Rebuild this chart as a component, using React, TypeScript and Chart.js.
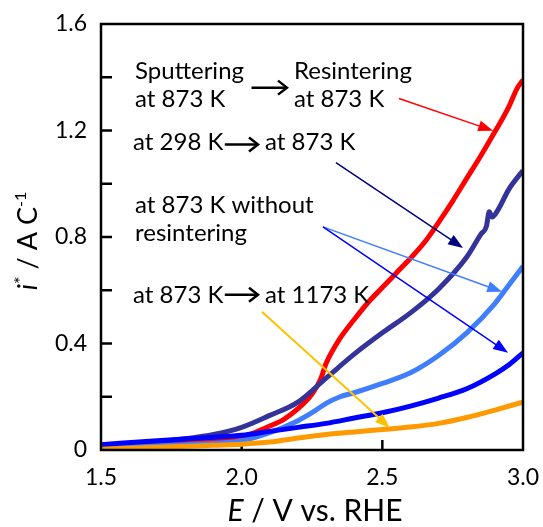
import React, { useEffect, useRef } from "react";
import { Chart, registerables } from "chart.js";

Chart.register(...registerables);

// Sputtering at 873 K -> Resintering at 873 K (red)
const redE = [1.5, 1.7, 1.9, 2.0, 2.1, 2.15, 2.2, 2.25, 2.28, 2.3, 2.35, 2.4, 2.45, 2.5, 2.55, 2.6, 2.65, 2.7, 2.75, 2.8, 2.85, 2.9, 2.95, 2.98, 3.0];
const redI = [0.015, 0.025, 0.038, 0.048, 0.09, 0.115, 0.155, 0.21, 0.265, 0.325, 0.42, 0.49, 0.555, 0.61, 0.665, 0.72, 0.78, 0.855, 0.935, 1.02, 1.105, 1.195, 1.29, 1.36, 1.39];

// at 298 K -> at 873 K (navy)
const navyE = [1.5, 1.7, 1.9, 2.0, 2.1, 2.2, 2.3, 2.4, 2.5, 2.6, 2.7, 2.8, 2.85, 2.87, 2.88, 2.89, 2.91, 2.95, 3.0];
const navyI = [0.015, 0.03, 0.058, 0.085, 0.13, 0.18, 0.27, 0.36, 0.44, 0.515, 0.605, 0.725, 0.81, 0.84, 0.895, 0.875, 0.9, 0.98, 1.05];

// at 873 K without resintering (light blue)
const lightE = [1.5, 1.8, 2.0, 2.1, 2.2, 2.25, 2.3, 2.35, 2.4, 2.5, 2.6, 2.7, 2.8, 2.9, 2.95, 3.0];
const lightI = [0.01, 0.02, 0.035, 0.065, 0.11, 0.14, 0.175, 0.2, 0.215, 0.25, 0.29, 0.355, 0.44, 0.55, 0.62, 0.69];

// at 873 K without resintering (blue)
const blueE = [1.5, 1.7, 1.9, 2.0, 2.1, 2.2, 2.3, 2.4, 2.5, 2.6, 2.7, 2.8, 2.9, 2.95, 3.0];
const blueI = [0.02, 0.035, 0.048, 0.055, 0.07, 0.085, 0.1, 0.12, 0.14, 0.165, 0.195, 0.23, 0.285, 0.32, 0.365];

// at 873 K -> at 1173 K (orange)
const orangeE = [1.5, 1.7, 1.9, 2.0, 2.1, 2.2, 2.3, 2.4, 2.5, 2.6, 2.7, 2.8, 2.9, 3.0];
const orangeI = [0.003, 0.01, 0.018, 0.022, 0.03, 0.045, 0.058, 0.068, 0.077, 0.086, 0.1, 0.122, 0.15, 0.18];

const xTickLabels = ["1.5", "2.0", "2.5", "3.0"];
const yTickLabels = ["0", "0.4", "0.8", "1.2", "1.6"];

const FONT = "Lato, 'Open Sans', sans-serif";

const pts = (xs: number[], ys: number[]) => xs.map((x, i) => ({ x, y: ys[i] }));

function drawArrowHead(ctx: CanvasRenderingContext2D, x1: number, y1: number, x2: number, y2: number, len: number, wid: number, color: string) {
  const a = Math.atan2(y2 - y1, x2 - x1);
  ctx.save();
  ctx.fillStyle = color;
  ctx.beginPath();
  ctx.moveTo(x2, y2);
  ctx.lineTo(x2 - len * Math.cos(a) + (wid / 2) * Math.sin(a), y2 - len * Math.sin(a) - (wid / 2) * Math.cos(a));
  ctx.lineTo(x2 - len * Math.cos(a) - (wid / 2) * Math.sin(a), y2 - len * Math.sin(a) + (wid / 2) * Math.cos(a));
  ctx.closePath();
  ctx.fill();
  ctx.restore();
}

const decor = {
  id: "decor",
  beforeDatasetsDraw(chart: any) {
    const { ctx, chartArea, scales } = chart;
    const { left, bottom } = chartArea;
    ctx.save();
    ctx.strokeStyle = "#000";
    ctx.lineWidth = 2.5;
    scales.y.ticks.forEach((t: any) => {
      if (t.value <= 0 || t.value >= 1.6) return;
      const py = scales.y.getPixelForValue(t.value);
      ctx.beginPath();
      ctx.moveTo(left, py);
      ctx.lineTo(left + 11, py);
      ctx.stroke();
    });
    scales.x.ticks.forEach((t: any) => {
      if (t.value <= 1.5 || t.value >= 3.0) return;
      const px = scales.x.getPixelForValue(t.value);
      ctx.beginPath();
      ctx.moveTo(px, bottom);
      ctx.lineTo(px, bottom - 10);
      ctx.stroke();
    });
    ctx.restore();
  },
  afterDraw(chart: any) {
    const { ctx, chartArea, scales } = chart;
    const { left, right, top, bottom } = chartArea;
    const X = (v: number) => scales.x.getPixelForValue(v);
    const Y = (v: number) => scales.y.getPixelForValue(v);
    ctx.save();
    ctx.strokeStyle = "#000";
    ctx.lineWidth = 2.5;
    ctx.strokeRect(left, top, right - left, bottom - top);

    ctx.fillStyle = "#000";
    ctx.font = `24px ${FONT}`;
    ctx.textAlign = "left";
    ctx.textBaseline = "alphabetic";
    const txt = (s: string, x: number, y: number) => ctx.fillText(s, X(x), Y(y));
    txt("Sputtering", 1.621, 1.395);
    txt("at 873 K", 1.621, 1.289);
    txt("Resintering", 2.186, 1.395);
    txt("at 873 K", 2.186, 1.289);
    txt("at 298 K", 1.614, 1.128);
    txt("at 873 K", 2.083, 1.128);
    txt("at 873 K without", 1.621, 0.891);
    txt("resintering", 1.621, 0.786);
    txt("at 873 K", 1.614, 0.553);
    txt("at 1173 K", 2.083, 0.553);

    const blackArrow = (x1: number, x2: number, y: number) => {
      const px1 = X(x1), px2 = X(x2), py = Y(y);
      ctx.save();
      ctx.strokeStyle = "#000";
      ctx.lineWidth = 2.5;
      ctx.beginPath();
      ctx.moveTo(px1, py);
      ctx.lineTo(px2 - 1, py);
      ctx.stroke();
      ctx.lineJoin = "miter";
      ctx.beginPath();
      ctx.moveTo(px2 - 9, py - 7);
      ctx.lineTo(px2, py);
      ctx.lineTo(px2 - 9, py + 7);
      ctx.stroke();
      ctx.restore();
    };
    blackArrow(2.035, 2.161, 1.361);
    blackArrow(1.94, 2.058, 1.147);
    blackArrow(1.94, 2.058, 0.583);

    const colArrow = (x1: number, y1: number, x2: number, y2: number, color: string, w: number) => {
      const a = X(x1), b = Y(y1), c = X(x2), d = Y(y2);
      const ang = Math.atan2(d - b, c - a);
      ctx.save();
      ctx.strokeStyle = color;
      ctx.lineWidth = w;
      ctx.beginPath();
      ctx.moveTo(a, b);
      ctx.lineTo(c - 12 * Math.cos(ang), d - 12 * Math.sin(ang));
      ctx.stroke();
      ctx.restore();
      drawArrowHead(ctx, a, b, c, d, 15, 11, color);
    };
    colArrow(2.559, 1.32, 2.894, 1.199, "#ff0000", 1.5);
    colArrow(2.335, 1.079, 2.787, 0.759, "#000080", 1.5);
    colArrow(2.289, 0.838, 2.926, 0.594, "#3f7fff", 1.5);
    colArrow(2.289, 0.838, 2.947, 0.365, "#0000ff", 1.5);
    colArrow(2.072, 0.519, 2.527, 0.083, "#ffc000", 2);

    // x axis title
    ctx.fillStyle = "#000";
    ctx.textBaseline = "alphabetic";
    ctx.textAlign = "left";
    const f1 = `italic 30px ${FONT}`;
    const f2 = `30px ${FONT}`;
    ctx.font = f1;
    const wE = ctx.measureText("E").width;
    ctx.font = f2;
    const wR = ctx.measureText(" / V vs. RHE").width;
    const sx = 315 - (wE + wR) / 2;
    ctx.font = f1;
    ctx.fillText("E", sx, 521);
    ctx.font = f2;
    ctx.fillText(" / V vs. RHE", sx + wE, 521);

    // y axis title (rotated)
    ctx.save();
    ctx.translate(37, 241);
    ctx.rotate(-Math.PI / 2);
    const parts: [string, string, number][] = [
      ["i", `italic 27px ${FONT}`, 0],
      ["*", `18px ${FONT}`, -10],
      [" / A C", `27px ${FONT}`, 0],
      ["-1", `16px ${FONT}`, -11],
    ];
    let total = 0;
    parts.forEach(([s, f]) => {
      ctx.font = f;
      total += ctx.measureText(s).width;
    });
    let px = -total / 2;
    parts.forEach(([s, f, dy]) => {
      ctx.font = f;
      ctx.fillText(s, px, dy);
      px += ctx.measureText(s).width;
    });
    ctx.restore();

    ctx.restore();
  },
};

export default function App() {
  const ref = useRef<HTMLCanvasElement | null>(null);
  useEffect(() => {
    document.body.style.margin = "0";
    if (!ref.current) return;
    const ds = (label: string, xs: number[], ys: number[], color: string) => ({
      label,
      data: pts(xs, ys),
      borderColor: color,
      backgroundColor: color,
      borderWidth: 5,
      pointRadius: 0,
      cubicInterpolationMode: "monotone" as const,
      fill: false,
    });
    const chart = new Chart(ref.current, {
      type: "line",
      data: {
        datasets: [
          ds("at 873 K -> at 1173 K", orangeE, orangeI, "#ff9900"),
          ds("at 873 K without resintering (a)", blueE, blueI, "#0000ff"),
          ds("at 873 K without resintering (b)", lightE, lightI, "#3f7fff"),
          ds("at 298 K -> at 873 K", navyE, navyI, "#333399"),
          ds("Sputtering at 873 K -> Resintering at 873 K", redE, redI, "#ff0000"),
        ],
      },
      options: {
        animation: false,
        responsive: false,
        layout: { padding: { top: 24, right: 20, left: 0, bottom: 0 } },
        plugins: { legend: { display: false }, tooltip: { enabled: false } },
        scales: {
          x: {
            type: "linear",
            min: 1.5,
            max: 3.0,
            ticks: {
              stepSize: 0.5,
              padding: 14,
              color: "#000",
              font: { family: FONT, size: 23 },
              callback: (v: any) => {
                const s = Number(v).toFixed(1);
                return xTickLabels.includes(s) ? s : "";
              },
            },
            grid: { display: false, drawTicks: false },
            border: { display: false },
            afterFit: (s: any) => {
              s.height = 77;
              s.paddingLeft = 0;
              s.paddingRight = 0;
            },
          },
          y: {
            type: "linear",
            min: 0,
            max: 1.6,
            ticks: {
              stepSize: 0.2,
              padding: 14,
              color: "#000",
              font: { family: FONT, size: 23 },
              callback: (v: any) => {
                const n = Number(v);
                const s = Math.abs(n) < 1e-9 ? "0" : n.toFixed(1);
                return yTickLabels.includes(s) ? s : "";
              },
            },
            grid: { display: false, drawTicks: false },
            border: { display: false },
            afterFit: (s: any) => {
              s.width = 101;
              s.paddingTop = 0;
              s.paddingBottom = 0;
            },
          },
        },
      },
      plugins: [decor],
    });
    return () => chart.destroy();
  }, []);
  return (
    <canvas
      ref={ref}
      width={543}
      height={527}
      style={{ position: "fixed", left: 0, top: 0, width: 543, height: 527 }}
    />
  );
}
